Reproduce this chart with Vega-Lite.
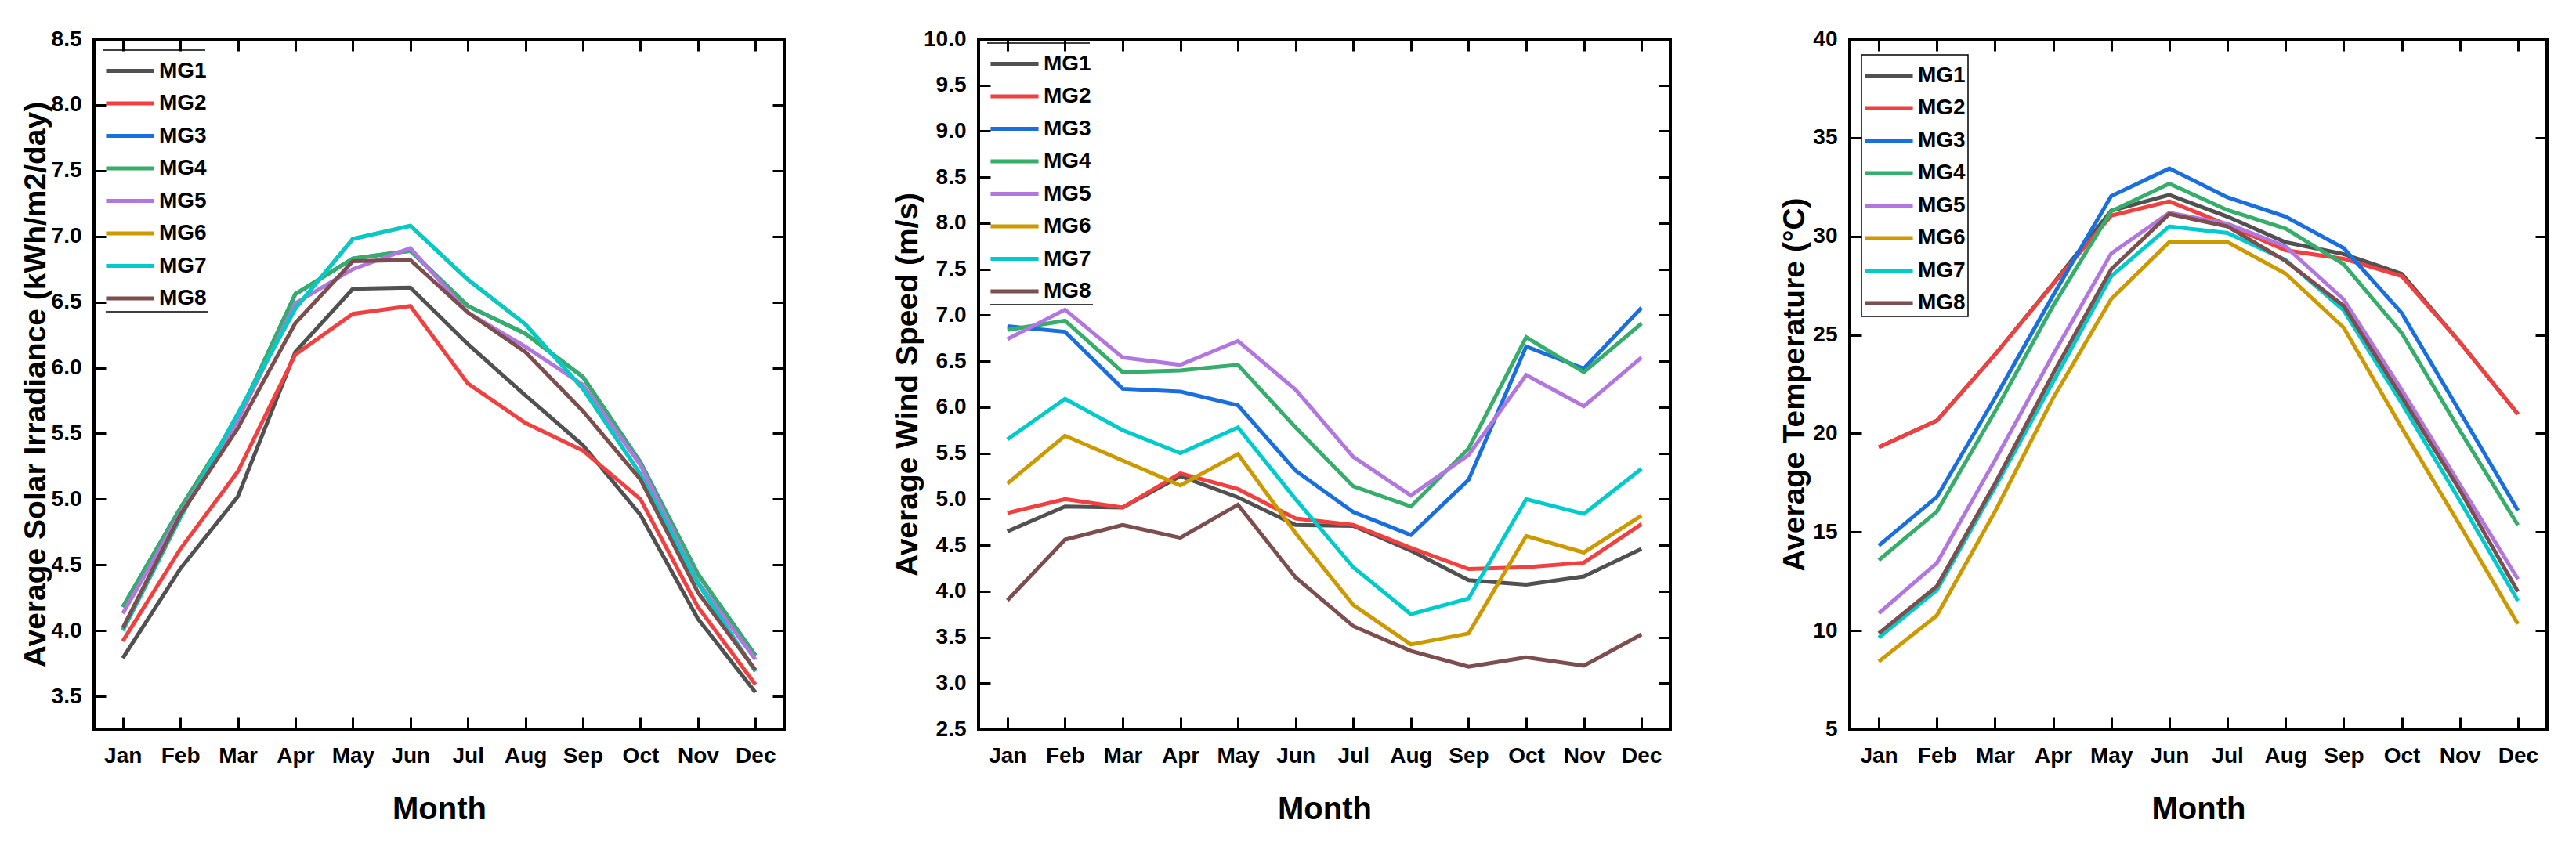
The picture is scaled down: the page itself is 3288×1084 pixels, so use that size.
{
  "$schema": "https://vega.github.io/schema/vega-lite/v6.json",
  "padding": {"left": 24, "top": 34, "right": 0, "bottom": 0},
  "background": "white",
  "datasets": {
    "solar": [
      {"m":1,"s":"MG1","v":3.79},{"m":2,"s":"MG1","v":4.47},{"m":3,"s":"MG1","v":5.02},{"m":4,"s":"MG1","v":6.12},{"m":5,"s":"MG1","v":6.60},{"m":6,"s":"MG1","v":6.61},{"m":7,"s":"MG1","v":6.18},{"m":8,"s":"MG1","v":5.79},{"m":9,"s":"MG1","v":5.41},{"m":10,"s":"MG1","v":4.88},{"m":11,"s":"MG1","v":4.09},{"m":12,"s":"MG1","v":3.53},
      {"m":1,"s":"MG2","v":3.92},{"m":2,"s":"MG2","v":4.62},{"m":3,"s":"MG2","v":5.21},{"m":4,"s":"MG2","v":6.10},{"m":5,"s":"MG2","v":6.41},{"m":6,"s":"MG2","v":6.47},{"m":7,"s":"MG2","v":5.88},{"m":8,"s":"MG2","v":5.58},{"m":9,"s":"MG2","v":5.37},{"m":10,"s":"MG2","v":5.00},{"m":11,"s":"MG2","v":4.18},{"m":12,"s":"MG2","v":3.59},
      {"m":1,"s":"MG3","v":4.18},{"m":2,"s":"MG3","v":4.93},{"m":3,"s":"MG3","v":5.62},{"m":4,"s":"MG3","v":6.56},{"m":5,"s":"MG3","v":6.83},{"m":6,"s":"MG3","v":6.89},{"m":7,"s":"MG3","v":6.47},{"m":8,"s":"MG3","v":6.26},{"m":9,"s":"MG3","v":5.93},{"m":10,"s":"MG3","v":5.28},{"m":11,"s":"MG3","v":4.43},{"m":12,"s":"MG3","v":3.81},
      {"m":1,"s":"MG4","v":4.18},{"m":2,"s":"MG4","v":4.93},{"m":3,"s":"MG4","v":5.62},{"m":4,"s":"MG4","v":6.56},{"m":5,"s":"MG4","v":6.83},{"m":6,"s":"MG4","v":6.89},{"m":7,"s":"MG4","v":6.47},{"m":8,"s":"MG4","v":6.26},{"m":9,"s":"MG4","v":5.93},{"m":10,"s":"MG4","v":5.28},{"m":11,"s":"MG4","v":4.43},{"m":12,"s":"MG4","v":3.81},
      {"m":1,"s":"MG5","v":4.13},{"m":2,"s":"MG5","v":4.89},{"m":3,"s":"MG5","v":5.60},{"m":4,"s":"MG5","v":6.49},{"m":5,"s":"MG5","v":6.75},{"m":6,"s":"MG5","v":6.91},{"m":7,"s":"MG5","v":6.42},{"m":8,"s":"MG5","v":6.16},{"m":9,"s":"MG5","v":5.87},{"m":10,"s":"MG5","v":5.26},{"m":11,"s":"MG5","v":4.37},{"m":12,"s":"MG5","v":3.78},
      {"m":1,"s":"MG6","v":4.00},{"m":2,"s":"MG6","v":4.86},{"m":3,"s":"MG6","v":5.65},{"m":4,"s":"MG6","v":6.45},{"m":5,"s":"MG6","v":6.98},{"m":6,"s":"MG6","v":7.08},{"m":7,"s":"MG6","v":6.67},{"m":8,"s":"MG6","v":6.33},{"m":9,"s":"MG6","v":5.84},{"m":10,"s":"MG6","v":5.19},{"m":11,"s":"MG6","v":4.36},{"m":12,"s":"MG6","v":3.69},
      {"m":1,"s":"MG7","v":4.00},{"m":2,"s":"MG7","v":4.86},{"m":3,"s":"MG7","v":5.65},{"m":4,"s":"MG7","v":6.45},{"m":5,"s":"MG7","v":6.98},{"m":6,"s":"MG7","v":7.08},{"m":7,"s":"MG7","v":6.67},{"m":8,"s":"MG7","v":6.33},{"m":9,"s":"MG7","v":5.84},{"m":10,"s":"MG7","v":5.19},{"m":11,"s":"MG7","v":4.36},{"m":12,"s":"MG7","v":3.69},
      {"m":1,"s":"MG8","v":4.02},{"m":2,"s":"MG8","v":4.88},{"m":3,"s":"MG8","v":5.54},{"m":4,"s":"MG8","v":6.34},{"m":5,"s":"MG8","v":6.81},{"m":6,"s":"MG8","v":6.82},{"m":7,"s":"MG8","v":6.42},{"m":8,"s":"MG8","v":6.12},{"m":9,"s":"MG8","v":5.67},{"m":10,"s":"MG8","v":5.15},{"m":11,"s":"MG8","v":4.29},{"m":12,"s":"MG8","v":3.70}
    ],
    "wind": [
      {"m":1,"s":"MG1","v":4.65},{"m":2,"s":"MG1","v":4.92},{"m":3,"s":"MG1","v":4.91},{"m":4,"s":"MG1","v":5.25},{"m":5,"s":"MG1","v":5.02},{"m":6,"s":"MG1","v":4.72},{"m":7,"s":"MG1","v":4.71},{"m":8,"s":"MG1","v":4.44},{"m":9,"s":"MG1","v":4.12},{"m":10,"s":"MG1","v":4.07},{"m":11,"s":"MG1","v":4.16},{"m":12,"s":"MG1","v":4.46},
      {"m":1,"s":"MG2","v":4.85},{"m":2,"s":"MG2","v":5.00},{"m":3,"s":"MG2","v":4.91},{"m":4,"s":"MG2","v":5.28},{"m":5,"s":"MG2","v":5.11},{"m":6,"s":"MG2","v":4.79},{"m":7,"s":"MG2","v":4.72},{"m":8,"s":"MG2","v":4.47},{"m":9,"s":"MG2","v":4.24},{"m":10,"s":"MG2","v":4.26},{"m":11,"s":"MG2","v":4.31},{"m":12,"s":"MG2","v":4.73},
      {"m":1,"s":"MG3","v":6.88},{"m":2,"s":"MG3","v":6.82},{"m":3,"s":"MG3","v":6.20},{"m":4,"s":"MG3","v":6.17},{"m":5,"s":"MG3","v":6.02},{"m":6,"s":"MG3","v":5.31},{"m":7,"s":"MG3","v":4.86},{"m":8,"s":"MG3","v":4.61},{"m":9,"s":"MG3","v":5.21},{"m":10,"s":"MG3","v":6.66},{"m":11,"s":"MG3","v":6.42},{"m":12,"s":"MG3","v":7.08},
      {"m":1,"s":"MG4","v":6.84},{"m":2,"s":"MG4","v":6.94},{"m":3,"s":"MG4","v":6.38},{"m":4,"s":"MG4","v":6.40},{"m":5,"s":"MG4","v":6.46},{"m":6,"s":"MG4","v":5.78},{"m":7,"s":"MG4","v":5.14},{"m":8,"s":"MG4","v":4.92},{"m":9,"s":"MG4","v":5.55},{"m":10,"s":"MG4","v":6.76},{"m":11,"s":"MG4","v":6.38},{"m":12,"s":"MG4","v":6.91},
      {"m":1,"s":"MG5","v":6.74},{"m":2,"s":"MG5","v":7.06},{"m":3,"s":"MG5","v":6.54},{"m":4,"s":"MG5","v":6.46},{"m":5,"s":"MG5","v":6.72},{"m":6,"s":"MG5","v":6.19},{"m":7,"s":"MG5","v":5.46},{"m":8,"s":"MG5","v":5.04},{"m":9,"s":"MG5","v":5.48},{"m":10,"s":"MG5","v":6.35},{"m":11,"s":"MG5","v":6.01},{"m":12,"s":"MG5","v":6.54},
      {"m":1,"s":"MG6","v":5.17},{"m":2,"s":"MG6","v":5.69},{"m":3,"s":"MG6","v":5.42},{"m":4,"s":"MG6","v":5.15},{"m":5,"s":"MG6","v":5.49},{"m":6,"s":"MG6","v":4.63},{"m":7,"s":"MG6","v":3.85},{"m":8,"s":"MG6","v":3.42},{"m":9,"s":"MG6","v":3.54},{"m":10,"s":"MG6","v":4.60},{"m":11,"s":"MG6","v":4.42},{"m":12,"s":"MG6","v":4.82},
      {"m":1,"s":"MG7","v":5.65},{"m":2,"s":"MG7","v":6.09},{"m":3,"s":"MG7","v":5.75},{"m":4,"s":"MG7","v":5.50},{"m":5,"s":"MG7","v":5.78},{"m":6,"s":"MG7","v":5.00},{"m":7,"s":"MG7","v":4.26},{"m":8,"s":"MG7","v":3.75},{"m":9,"s":"MG7","v":3.92},{"m":10,"s":"MG7","v":5.00},{"m":11,"s":"MG7","v":4.84},{"m":12,"s":"MG7","v":5.33},
      {"m":1,"s":"MG8","v":3.90},{"m":2,"s":"MG8","v":4.56},{"m":3,"s":"MG8","v":4.72},{"m":4,"s":"MG8","v":4.58},{"m":5,"s":"MG8","v":4.94},{"m":6,"s":"MG8","v":4.15},{"m":7,"s":"MG8","v":3.62},{"m":8,"s":"MG8","v":3.35},{"m":9,"s":"MG8","v":3.18},{"m":10,"s":"MG8","v":3.28},{"m":11,"s":"MG8","v":3.19},{"m":12,"s":"MG8","v":3.53}
    ],
    "temp": [
      {"m":1,"s":"MG1","v":19.30},{"m":2,"s":"MG1","v":20.65},{"m":3,"s":"MG1","v":24.0},{"m":4,"s":"MG1","v":27.6},{"m":5,"s":"MG1","v":31.3},{"m":6,"s":"MG1","v":32.1},{"m":7,"s":"MG1","v":31.0},{"m":8,"s":"MG1","v":29.7},{"m":9,"s":"MG1","v":29.1},{"m":10,"s":"MG1","v":28.1},{"m":11,"s":"MG1","v":24.63},{"m":12,"s":"MG1","v":20.98},
      {"m":1,"s":"MG2","v":19.30},{"m":2,"s":"MG2","v":20.65},{"m":3,"s":"MG2","v":24.0},{"m":4,"s":"MG2","v":27.57},{"m":5,"s":"MG2","v":31.05},{"m":6,"s":"MG2","v":31.77},{"m":7,"s":"MG2","v":30.58},{"m":8,"s":"MG2","v":29.29},{"m":9,"s":"MG2","v":28.86},{"m":10,"s":"MG2","v":27.98},{"m":11,"s":"MG2","v":24.63},{"m":12,"s":"MG2","v":20.98},
      {"m":1,"s":"MG3","v":14.31},{"m":2,"s":"MG3","v":16.78},{"m":3,"s":"MG3","v":21.8},{"m":4,"s":"MG3","v":27.0},{"m":5,"s":"MG3","v":32.04},{"m":6,"s":"MG3","v":33.44},{"m":7,"s":"MG3","v":31.98},{"m":8,"s":"MG3","v":31.0},{"m":9,"s":"MG3","v":29.4},{"m":10,"s":"MG3","v":26.11},{"m":11,"s":"MG3","v":21.1},{"m":12,"s":"MG3","v":16.09},
      {"m":1,"s":"MG4","v":13.57},{"m":2,"s":"MG4","v":16.04},{"m":3,"s":"MG4","v":21.11},{"m":4,"s":"MG4","v":26.47},{"m":5,"s":"MG4","v":31.27},{"m":6,"s":"MG4","v":32.67},{"m":7,"s":"MG4","v":31.33},{"m":8,"s":"MG4","v":30.39},{"m":9,"s":"MG4","v":28.58},{"m":10,"s":"MG4","v":25.09},{"m":11,"s":"MG4","v":20.15},{"m":12,"s":"MG4","v":15.35},
      {"m":1,"s":"MG5","v":10.88},{"m":2,"s":"MG5","v":13.43},{"m":3,"s":"MG5","v":18.64},{"m":4,"s":"MG5","v":24.0},{"m":5,"s":"MG5","v":29.13},{"m":6,"s":"MG5","v":31.19},{"m":7,"s":"MG5","v":30.64},{"m":8,"s":"MG5","v":29.49},{"m":9,"s":"MG5","v":26.8},{"m":10,"s":"MG5","v":22.21},{"m":11,"s":"MG5","v":17.41},{"m":12,"s":"MG5","v":12.61},
      {"m":1,"s":"MG6","v":8.43},{"m":2,"s":"MG6","v":10.77},{"m":3,"s":"MG6","v":16.04},{"m":4,"s":"MG6","v":21.8},{"m":5,"s":"MG6","v":26.82},{"m":6,"s":"MG6","v":29.71},{"m":7,"s":"MG6","v":29.71},{"m":8,"s":"MG6","v":28.11},{"m":9,"s":"MG6","v":25.37},{"m":10,"s":"MG6","v":20.29},{"m":11,"s":"MG6","v":15.35},{"m":12,"s":"MG6","v":10.33},
      {"m":1,"s":"MG7","v":9.64},{"m":2,"s":"MG7","v":12.06},{"m":3,"s":"MG7","v":17.27},{"m":4,"s":"MG7","v":22.62},{"m":5,"s":"MG7","v":27.98},{"m":6,"s":"MG7","v":30.5},{"m":7,"s":"MG7","v":30.17},{"m":8,"s":"MG7","v":28.8},{"m":9,"s":"MG7","v":26.25},{"m":10,"s":"MG7","v":21.53},{"m":11,"s":"MG7","v":16.59},{"m":12,"s":"MG7","v":11.51},
      {"m":1,"s":"MG8","v":9.86},{"m":2,"s":"MG8","v":12.25},{"m":3,"s":"MG8","v":17.46},{"m":4,"s":"MG8","v":23.04},{"m":5,"s":"MG8","v":28.33},{"m":6,"s":"MG8","v":31.13},{"m":7,"s":"MG8","v":30.5},{"m":8,"s":"MG8","v":28.75},{"m":9,"s":"MG8","v":26.47},{"m":10,"s":"MG8","v":21.86},{"m":11,"s":"MG8","v":17.13},{"m":12,"s":"MG8","v":11.97}
    ]
  },
  "bounds": "flush",
  "spacing": 248,
  "hconcat": [
    {
      "width": 881,
      "height": 881,
      "data": {"name": "solar"},
      "layer": [
        {
          "mark": {"type": "line", "strokeWidth": 5},
          "encoding": {
            "x": {"field": "m", "type": "quantitative", "scale": {"domain": [0.5, 12.5], "nice": false},
              "axis": {"orient": "bottom", "title": "Month", "values": [1,2,3,4,5,6,7,8,9,10,11,12], "zindex": 2,
                "labelExpr": "['Jan','Feb','Mar','Apr','May','Jun','Jul','Aug','Sep','Oct','Nov','Dec'][datum.value - 1]"}},
            "y": {"field": "v", "type": "quantitative", "scale": {"domain": [3.25, 8.5], "nice": false, "zero": false},
              "axis": {"orient": "left", "title": "Average Solar Irradiance (kWh/m2/day)", "titlePadding": 0, "zindex": 2,
                "values": [3.5,4,4.5,5,5.5,6,6.5,7,7.5,8,8.5], "format": ".1f"}},
            "color": {"field": "s", "type": "nominal",
              "scale": {"domain": ["MG1","MG2","MG3","MG4","MG5","MG6","MG7","MG8"], "range": ["#515151","#F14040","#1A6FDF","#37AD6B","#B177DE","#CC9900","#00CBCC","#7D4E4E"]},
              "legend": {"orient": "none", "legendX": 11, "legendY": 14,
                "encode": {"legend": {"update": {"strokeDash": {"value": [131, 340, 131, 340]}}}}}}
          }
        },
        {
          "mark": {"type": "line", "opacity": 0},
          "encoding": {
            "x": {"field": "m", "type": "quantitative",
              "axis": {"orient": "top", "title": null, "labels": false, "zindex": 2, "values": [1,2,3,4,5,6,7,8,9,10,11,12]}},
            "y": {"field": "v", "type": "quantitative",
              "axis": {"orient": "right", "title": null, "labels": false, "zindex": 2, "values": [3.5,4,4.5,5,5.5,6,6.5,7,7.5,8,8.5]}},
            "detail": {"field": "s"}
          }
        }
      ],
      "resolve": {"axis": {"x": "independent", "y": "independent"}}
    },
    {
      "bounds": "flush",
      "spacing": 229,
      "hconcat": [
        {
          "width": 883,
          "height": 881,
          "data": {"name": "wind"},
          "layer": [
            {
              "mark": {"type": "line", "strokeWidth": 5},
              "encoding": {
                "x": {"field": "m", "type": "quantitative", "scale": {"domain": [0.5, 12.5], "nice": false},
                  "axis": {"orient": "bottom", "title": "Month", "values": [1,2,3,4,5,6,7,8,9,10,11,12], "zindex": 2,
                    "labelExpr": "['Jan','Feb','Mar','Apr','May','Jun','Jul','Aug','Sep','Oct','Nov','Dec'][datum.value - 1]"}},
                "y": {"field": "v", "type": "quantitative", "scale": {"domain": [2.5, 10], "nice": false, "zero": false},
                  "axis": {"orient": "left", "title": "Average Wind Speed (m/s)", "titlePadding": 0, "zindex": 2,
                    "values": [2.5,3,3.5,4,4.5,5,5.5,6,6.5,7,7.5,8,8.5,9,9.5,10], "format": ".1f"}},
                "color": {"field": "s", "type": "nominal",
                  "scale": {"domain": ["MG1","MG2","MG3","MG4","MG5","MG6","MG7","MG8"], "range": ["#515151","#F14040","#1A6FDF","#37AD6B","#B177DE","#CC9900","#00CBCC","#7D4E4E"]},
                  "legend": {"orient": "none", "legendX": 11, "legendY": 5,
                    "encode": {"legend": {"update": {"strokeDash": {"value": [131, 340, 131, 340]}}}}}}
              }
            },
            {
              "mark": {"type": "line", "opacity": 0},
              "encoding": {
                "x": {"field": "m", "type": "quantitative",
                  "axis": {"orient": "top", "title": null, "labels": false, "zindex": 2, "values": [1,2,3,4,5,6,7,8,9,10,11,12]}},
                "y": {"field": "v", "type": "quantitative",
                  "axis": {"orient": "right", "title": null, "labels": false, "zindex": 2, "values": [2.5,3,3.5,4,4.5,5,5.5,6,6.5,7,7.5,8,8.5,9,9.5,10]}},
                "detail": {"field": "s"}
              }
            }
          ],
          "resolve": {"axis": {"x": "independent", "y": "independent"}}
        },
        {
          "width": 890,
          "height": 881,
          "data": {"name": "temp"},
          "layer": [
            {
              "mark": {"type": "line", "strokeWidth": 5},
              "encoding": {
                "x": {"field": "m", "type": "quantitative", "scale": {"domain": [0.5, 12.5], "nice": false},
                  "axis": {"orient": "bottom", "title": "Month", "values": [1,2,3,4,5,6,7,8,9,10,11,12], "zindex": 2,
                    "labelExpr": "['Jan','Feb','Mar','Apr','May','Jun','Jul','Aug','Sep','Oct','Nov','Dec'][datum.value - 1]"}},
                "y": {"field": "v", "type": "quantitative", "scale": {"domain": [5, 40], "nice": false, "zero": false},
                  "axis": {"orient": "left", "title": "Average Temperature  (°C)", "titlePadding": 3, "zindex": 2,
                    "values": [5,10,15,20,25,30,35,40], "format": "d"}},
                "color": {"field": "s", "type": "nominal",
                  "scale": {"domain": ["MG1","MG2","MG3","MG4","MG5","MG6","MG7","MG8"], "range": ["#515151","#F14040","#1A6FDF","#37AD6B","#B177DE","#CC9900","#00CBCC","#7D4E4E"]},
                  "legend": {"orient": "none", "legendX": 15, "legendY": 20}}
              }
            },
            {
              "mark": {"type": "line", "opacity": 0},
              "encoding": {
                "x": {"field": "m", "type": "quantitative",
                  "axis": {"orient": "top", "title": null, "labels": false, "zindex": 2, "values": [1,2,3,4,5,6,7,8,9,10,11,12]}},
                "y": {"field": "v", "type": "quantitative",
                  "axis": {"orient": "right", "title": null, "labels": false, "zindex": 2, "values": [5,10,15,20,25,30,35,40]}},
                "detail": {"field": "s"}
              }
            }
          ],
          "resolve": {"axis": {"x": "independent", "y": "independent"}}
        }
      ],
      "resolve": {"legend": {"color": "independent"}}
    }
  ],
  "resolve": {"legend": {"color": "independent"}},
  "config": {
    "view": {"stroke": "black", "strokeWidth": 4},
    "axis": {
      "domain": false, "grid": false, "ticks": true,
      "tickColor": "#000000", "tickWidth": 3, "tickSize": 15, "tickOpacity": 1, "offset": -15,
      "labelFont": "Liberation Sans", "labelFontSize": 28, "labelFontWeight": "bold", "labelColor": "black",
      "labelFlush": false, "labelOverlap": false, "labelBound": false,
      "titleColor": "black", "titleFontWeight": "bold"
    },
    "axisX": {"labelPadding": 20, "titlePadding": 34, "titleFont": "Liberation Sans", "titleFontSize": 40},
    "axisY": {"labelPadding": 16, "titleFont": "Liberation Sans", "titleFontSize": 39},
    "legend": {
      "title": null, "padding": 3, "rowPadding": 3.5,
      "symbolType": "M-1.05,0H1.86", "symbolSize": 1764, "symbolStrokeWidth": 5,
      "labelFont": "Liberation Sans", "labelFontSize": 28, "labelFontWeight": "bold", "labelColor": "black",
      "labelOffset": 22,
      "strokeColor": "black", "strokeWidth": 1.5
    }
  }
}
